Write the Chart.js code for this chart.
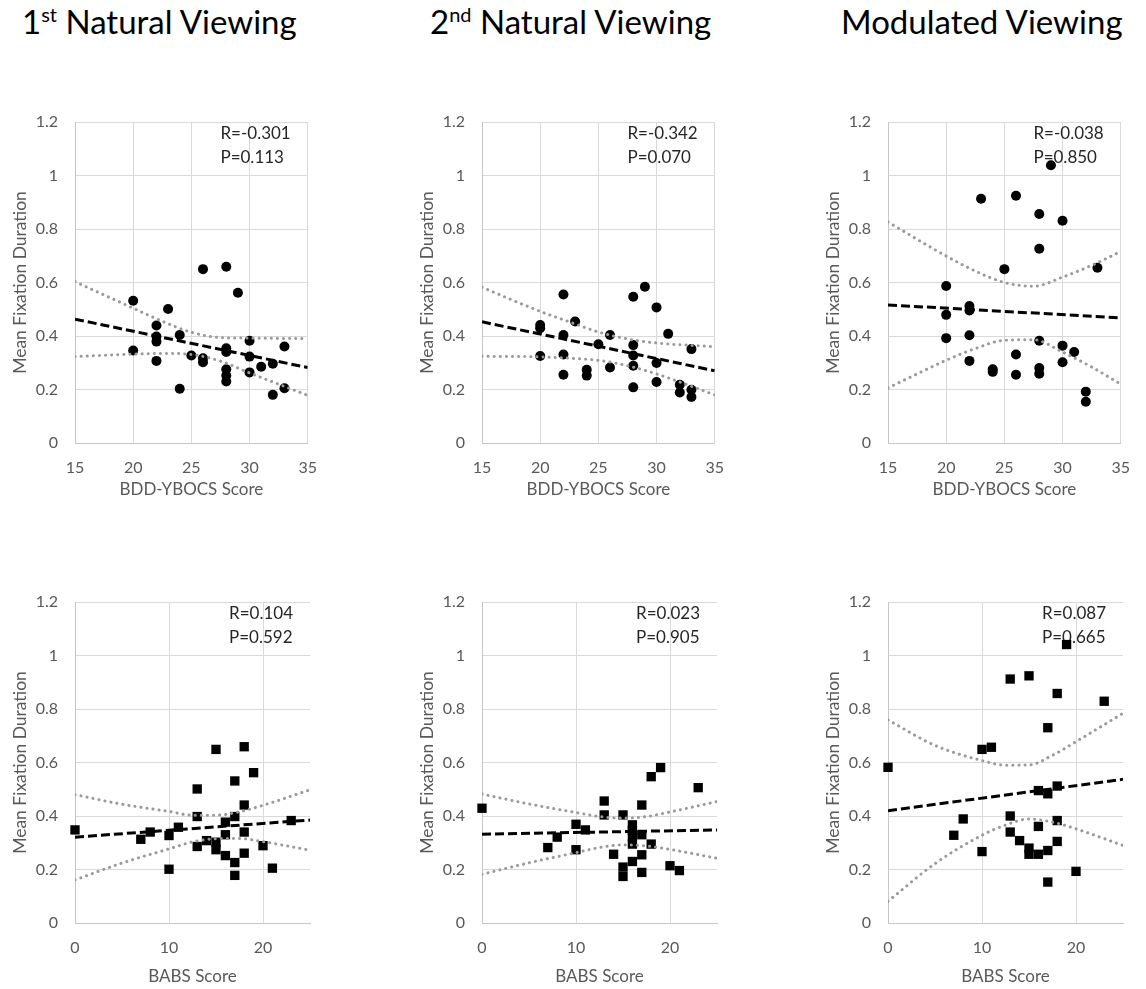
<!DOCTYPE html>
<html>
<head>
<meta charset="utf-8">
<script src="https://cdn.jsdelivr.net/npm/chart.js@4.4.1/dist/chart.umd.min.js"></script>
<style>
  body { margin: 0; width: 1146px; height: 989px; background: #fff; position: relative; overflow: hidden; font-family: Lato, sans-serif; }
  .title { position: absolute; top: 5px; font-size: 33px; line-height: 33px; color: #000; white-space: nowrap; }
  .title sup { font-size: 20px; line-height: 0; vertical-align: 12px; }
  canvas { position: absolute; }
</style>
</head>
<body>
<div class="title" style="left:22px">1<sup>st</sup> Natural Viewing</div>
<div class="title" style="left:430px">2<sup>nd</sup> Natural Viewing</div>
<div class="title" style="left:841px">Modulated Viewing</div>
<script>
// ---- data ----
var ybocsTicks = [15, 20, 25, 30, 35];
var babsTicks = [0, 10, 20];

// BDD-YBOCS vs duration
var nv1YbocsX = [26,28,29,20,23,22,22,22,24,20,22,25,26,26,24,28,28,28,28,28,30,30,30,31,32,32,33,33];
var nv1YbocsY = [0.650,0.659,0.562,0.532,0.501,0.439,0.398,0.379,0.404,0.346,0.307,0.327,0.317,0.302,0.203,0.354,0.340,0.276,0.252,0.230,0.382,0.323,0.264,0.285,0.296,0.180,0.361,0.205];
var nv2YbocsX = [29,28,30,22,23,20,20,22,26,31,25,28,20,22,28,28,30,33,24,24,22,26,28,30,32,32,33,33];
var nv2YbocsY = [0.584,0.547,0.507,0.555,0.454,0.441,0.429,0.404,0.404,0.408,0.369,0.366,0.325,0.331,0.327,0.289,0.299,0.351,0.274,0.252,0.255,0.282,0.208,0.228,0.218,0.189,0.199,0.172];
var modYbocsX = [29,26,23,28,30,28,25,33,20,22,22,20,20,22,28,30,31,26,22,30,24,24,26,28,28,32,32];
var modYbocsY = [1.038,0.924,0.913,0.856,0.831,0.726,0.650,0.655,0.587,0.512,0.495,0.479,0.392,0.403,0.382,0.364,0.340,0.331,0.307,0.302,0.276,0.266,0.255,0.280,0.259,0.192,0.154];

// BABS vs duration
var nv1BabsX = [0,7,8,10,10,11,13,13,13,14,15,15,15,16,16,16,17,17,17,17,18,18,18,18,19,20,21,23];
var nv1BabsY = [0.348,0.313,0.340,0.327,0.201,0.358,0.501,0.398,0.286,0.308,0.649,0.302,0.274,0.377,0.330,0.252,0.531,0.398,0.226,0.178,0.659,0.441,0.340,0.261,0.562,0.289,0.205,0.383];
var nv2BabsX = [0,7,8,10,10,11,13,13,14,15,15,15,16,16,16,16,16,17,17,17,17,18,18,19,20,21,23];
var nv2BabsY = [0.429,0.282,0.321,0.369,0.274,0.348,0.456,0.404,0.257,0.404,0.209,0.174,0.367,0.346,0.323,0.295,0.230,0.441,0.330,0.255,0.189,0.547,0.295,0.581,0.214,0.196,0.506];
var modBabsX = [0,7,8,10,10,11,13,13,13,14,15,15,15,16,16,16,17,17,17,17,18,18,18,18,19,20,23];
var modBabsY = [0.582,0.328,0.389,0.649,0.267,0.657,0.912,0.400,0.340,0.308,0.924,0.280,0.257,0.495,0.361,0.257,0.730,0.483,0.271,0.153,0.858,0.512,0.383,0.305,1.041,0.193,0.829];

// linear trend end points
var ybocsFitX = [15, 35];
var nv1YbocsFit = [0.463, 0.282];
var nv2YbocsFit = [0.453, 0.270];
var modYbocsFit = [0.516, 0.468];
var babsFitX = [0, 25];
var nv1BabsFit = [0.321, 0.385];
var nv2BabsFit = [0.332, 0.348];
var modBabsFit = [0.420, 0.537];

// confidence bands (upper / lower)
var nv1BandX = [15, 20, 22.5, 25, 27.5, 30, 35];
var nv1YbocsUp = [0.603, 0.504, 0.455, 0.414, 0.394, 0.392, 0.390];
var nv1YbocsLo = [0.323, 0.332, 0.335, 0.331, 0.306, 0.262, 0.178];
var nv2BandX = [15, 20, 22.5, 25, 27.5, 30, 35];
var nv2YbocsUp = [0.582, 0.492, 0.453, 0.415, 0.389, 0.374, 0.360];
var nv2YbocsLo = [0.324, 0.322, 0.317, 0.309, 0.289, 0.258, 0.180];
var modBandX = [15, 20, 22.5, 25, 27.5, 30, 32.5, 35];
var modYbocsUp = [0.826, 0.699, 0.643, 0.600, 0.586, 0.620, 0.664, 0.716];
var modYbocsLo = [0.206, 0.309, 0.353, 0.384, 0.386, 0.340, 0.284, 0.220];
var babsBandX = [0, 5, 10, 12.5, 15, 17.5, 20, 25];
var nv1BabsUp = [0.480, 0.444, 0.417, 0.403, 0.403, 0.416, 0.440, 0.498];
var nv1BabsLo = [0.161, 0.224, 0.277, 0.303, 0.315, 0.316, 0.304, 0.272];
var nv2BabsUp = [0.482, 0.445, 0.413, 0.398, 0.392, 0.398, 0.415, 0.454];
var nv2BabsLo = [0.182, 0.225, 0.263, 0.282, 0.292, 0.288, 0.275, 0.242];
var modBabsUp = [0.759, 0.664, 0.607, 0.590, 0.591, 0.627, 0.678, 0.784];
var modBabsLo = [0.081, 0.222, 0.328, 0.366, 0.389, 0.377, 0.352, 0.290];

var statText = [
  ['R=-0.301', 'P=0.113'], ['R=-0.342', 'P=0.070'], ['R=-0.038', 'P=0.850'],
  ['R=0.104', 'P=0.592'], ['R=0.023', 'P=0.905'], ['R=0.087', 'P=0.665']
];

// ---- drawing ----
Chart.defaults.font.family = 'Lato';

var pts = function(xs, ys) {
  return xs.map(function(x, i) { return {x: x, y: ys[i]}; });
};

var statsPlugin = {
  id: 'stats',
  beforeDatasetsDraw: function(chart, args, opts) {
    var ctx = chart.ctx, area = chart.chartArea;
    ctx.save();
    ctx.font = '17px Lato';
    ctx.fillStyle = '#262626';
    ctx.textBaseline = 'middle';
    var w = Math.max.apply(null, opts.lines.map(function(t) { return ctx.measureText(t).width; }));
    var x = area.right - 17 - w;
    opts.lines.forEach(function(t, i) { ctx.fillText(t, x, area.top + 12 + i * 23.5); });
    ctx.restore();
  }
};

var panels = [
  {left: 0,   top: 82,  x: nv1YbocsX, y: nv1YbocsY, fit: nv1YbocsFit, bx: nv1BandX, up: nv1YbocsUp, lo: nv1YbocsLo, ybocs: true},
  {left: 407, top: 82,  x: nv2YbocsX, y: nv2YbocsY, fit: nv2YbocsFit, bx: nv2BandX, up: nv2YbocsUp, lo: nv2YbocsLo, ybocs: true},
  {left: 813, top: 82,  x: modYbocsX, y: modYbocsY, fit: modYbocsFit, bx: modBandX, up: modYbocsUp, lo: modYbocsLo, ybocs: true},
  {left: 0,   top: 562, x: nv1BabsX,  y: nv1BabsY,  fit: nv1BabsFit,  bx: babsBandX, up: nv1BabsUp, lo: nv1BabsLo, ybocs: false},
  {left: 407, top: 562, x: nv2BabsX,  y: nv2BabsY,  fit: nv2BabsFit,  bx: babsBandX, up: nv2BabsUp, lo: nv2BabsLo, ybocs: false},
  {left: 813, top: 562, x: modBabsX,  y: modBabsY,  fit: modBabsFit,  bx: babsBandX, up: modBabsUp, lo: modBabsLo, ybocs: false}
];

panels.forEach(function(p, n) {
  var canvas = document.createElement('canvas');
  canvas.width = 332;
  canvas.height = 427;
  canvas.style.left = p.left + 'px';
  canvas.style.top = p.top + 'px';
  document.body.appendChild(canvas);

  var fitX = p.ybocs ? ybocsFitX : babsFitX;
  var ticks = p.ybocs ? ybocsTicks : babsTicks;

  var band = function(ys) {
    return {
      type: 'line', data: pts(p.bx, ys), showLine: true, pointRadius: 0,
      borderColor: '#9a9a9a', borderWidth: 3, borderDash: [0.1, 6], borderCapStyle: 'round',
      cubicInterpolationMode: 'monotone', fill: false, order: 1
    };
  };

  new Chart(canvas.getContext('2d'), {
    type: 'scatter',
    data: {
      datasets: [
        {
          data: pts(p.x, p.y), backgroundColor: '#000', borderWidth: 0, clip: false,
          pointStyle: p.ybocs ? 'circle' : 'rect', pointRadius: p.ybocs ? 5 : 6.6, order: 2
        },
        {
          type: 'line', data: pts(fitX, p.fit), showLine: true, pointRadius: 0,
          borderColor: '#000', borderWidth: 3, borderDash: [9, 4], fill: false, order: 0
        },
        band(p.up),
        band(p.lo)
      ]
    },
    options: {
      responsive: false,
      animation: false,
      layout: {padding: {top: 40, right: 22, left: 0, bottom: 0}},
      plugins: {
        legend: {display: false},
        tooltip: {enabled: false},
        stats: {lines: statText[n]}
      },
      scales: {
        x: {
          type: 'linear',
          min: ticks[0], max: p.ybocs ? 35 : 25,
          afterFit: function(s) { s.height = 66; },
          grid: {color: '#d9d9d9', drawTicks: false},
          border: {color: '#c6c6c6'},
          ticks: {stepSize: ticks[1] - ticks[0], includeBounds: false, padding: 15, color: '#595959', font: {size: 16}},
          title: {
            display: true, text: p.ybocs ? 'BDD-YBOCS Score' : 'BABS Score', color: '#595959',
            font: {size: 17}, padding: {top: 0, bottom: p.ybocs ? 9 : 2}
          }
        },
        y: {
          min: 0, max: 1.2,
          afterFit: function(s) { s.width = 75; },
          grid: {color: '#d9d9d9', drawTicks: false},
          border: {color: '#c6c6c6'},
          ticks: {
            stepSize: 0.2, padding: 17, color: '#595959', font: {size: 16},
            callback: function(v) { return String(Math.round(v * 10) / 10); }
          },
          title: {
            display: true, text: 'Mean Fixation Duration', color: '#595959',
            font: {size: 17.5}, padding: {top: 9.5, bottom: 0}
          }
        }
      }
    },
    plugins: [statsPlugin]
  });
});
</script>
</body>
</html>
